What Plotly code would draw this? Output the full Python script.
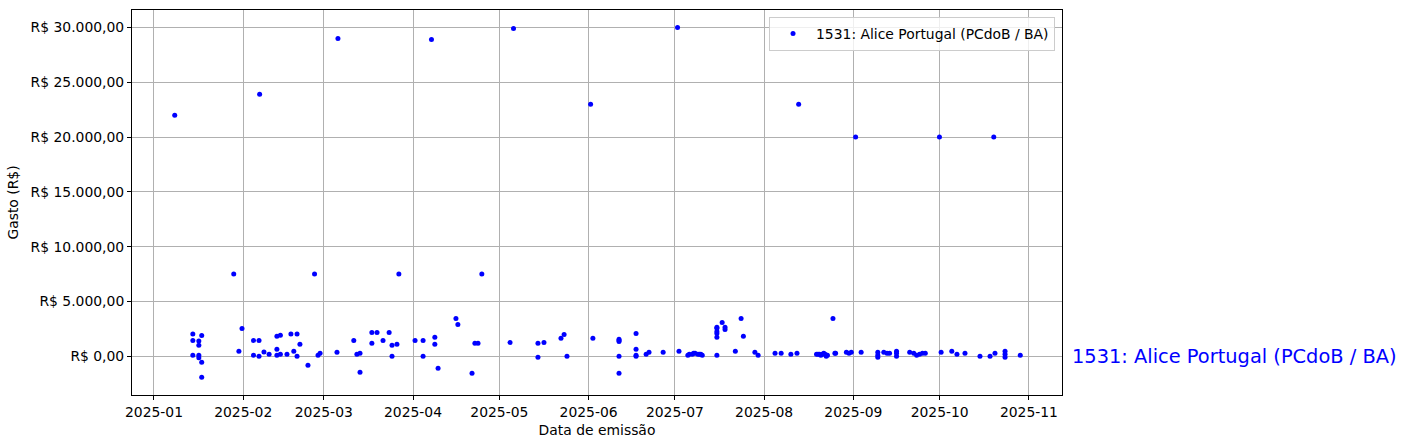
import plotly.graph_objects as go

# ---- data ----
dates = [
    "2025-01-08 05:00",
    "2025-01-14 12:00", "2025-01-14 12:00", "2025-01-14 12:00",
    "2025-01-16 14:00", "2025-01-16 14:00", "2025-01-16 14:00", "2025-01-16 14:00",
    "2025-01-17 14:00", "2025-01-17 14:00", "2025-01-17 14:00",
    "2025-01-28 17:00", "2025-01-30 12:00", "2025-01-31 14:00",
    "2025-02-04 14:00", "2025-02-04 14:00",
    "2025-02-06 12:00", "2025-02-06 12:00", "2025-02-06 17:00",
    "2025-02-08 05:00", "2025-02-10 00:00",
    "2025-02-12 17:00", "2025-02-12 17:00", "2025-02-12 17:00",
    "2025-02-13 22:00", "2025-02-13 22:00",
    "2025-02-16 05:00", "2025-02-17 14:00", "2025-02-18 14:00",
    "2025-02-19 17:00", "2025-02-19 17:00",
    "2025-02-20 17:00", "2025-02-23 12:00", "2025-02-25 19:00",
    "2025-02-27 00:00", "2025-02-27 17:00",
    "2025-03-05 14:00", "2025-03-05 22:00", "2025-03-11 10:00", "2025-03-12 12:00",
    "2025-03-13 14:00", "2025-03-13 14:00",
    "2025-03-17 17:00", "2025-03-17 17:00",
    "2025-03-19 12:00", "2025-03-21 14:00", "2025-03-23 17:00",
    "2025-03-24 17:00", "2025-03-24 17:00",
    "2025-03-26 10:00", "2025-03-27 02:00",
    "2025-04-01 17:00", "2025-04-04 12:00", "2025-04-04 12:00",
    "2025-04-07 10:00", "2025-04-08 14:00", "2025-04-08 14:00",
    "2025-04-09 17:00", "2025-04-15 22:00", "2025-04-16 14:00",
    "2025-04-21 12:00", "2025-04-22 12:00", "2025-04-23 14:00", "2025-04-24 22:00",
    "2025-05-04 17:00", "2025-05-05 22:00",
    "2025-05-14 10:00", "2025-05-14 10:00",
    "2025-05-16 12:00", "2025-05-22 10:00", "2025-05-23 12:00", "2025-05-24 12:00",
    "2025-06-01 17:00", "2025-06-02 12:00",
    "2025-06-11 14:00", "2025-06-11 14:00", "2025-06-11 14:00", "2025-06-11 14:00", "2025-06-11 14:00",
    "2025-06-17 12:00", "2025-06-17 12:00", "2025-06-17 12:00", "2025-06-17 12:00",
    "2025-06-21 00:00", "2025-06-22 00:00", "2025-06-26 22:00",
    "2025-07-01 22:00", "2025-07-02 10:00",
    "2025-07-05 12:00", "2025-07-06 00:00", "2025-07-07 00:00", "2025-07-07 12:00",
    "2025-07-08 00:00", "2025-07-09 00:00", "2025-07-09 12:00", "2025-07-10 00:00",
    "2025-07-10 12:00",
    "2025-07-15 14:00", "2025-07-15 14:00", "2025-07-15 14:00", "2025-07-15 14:00",
    "2025-07-15 14:00", "2025-07-15 14:00",
    "2025-07-17 10:00", "2025-07-18 10:00", "2025-07-18 10:00",
    "2025-07-22 00:00", "2025-07-24 00:00", "2025-07-24 19:00",
    "2025-07-28 19:00", "2025-07-29 22:00",
    "2025-08-04 19:00", "2025-08-06 22:00", "2025-08-10 07:00", "2025-08-12 10:00",
    "2025-08-13 00:00",
    "2025-08-19 05:00", "2025-08-19 17:00", "2025-08-20 05:00", "2025-08-20 17:00",
    "2025-08-21 05:00", "2025-08-21 17:00", "2025-08-22 05:00", "2025-08-22 14:00",
    "2025-08-23 00:00",
    "2025-08-24 22:00", "2025-08-25 14:00", "2025-08-25 20:00",
    "2025-08-29 14:00", "2025-08-30 12:00", "2025-08-31 07:00",
    "2025-09-01 19:00", "2025-09-03 17:00",
    "2025-09-09 12:00", "2025-09-09 12:00", "2025-09-09 12:00",
    "2025-09-11 14:00", "2025-09-12 17:00", "2025-09-13 14:00",
    "2025-09-16 00:00", "2025-09-16 00:00", "2025-09-16 00:00",
    "2025-09-20 14:00", "2025-09-22 00:00", "2025-09-23 00:00", "2025-09-24 00:00",
    "2025-09-25 00:00", "2025-09-26 00:00",
    "2025-09-30 22:00", "2025-10-01 12:00", "2025-10-05 05:00", "2025-10-07 00:00",
    "2025-10-09 19:00", "2025-10-15 00:00", "2025-10-18 12:00", "2025-10-19 19:00",
    "2025-10-20 05:00",
    "2025-10-23 17:00", "2025-10-23 17:00", "2025-10-23 17:00",
    "2025-10-29 00:00",
]
values = [
    22000,
    2030, 1450, 90,
    1390, 1000, 90, -130,
    1900, -550, -1900,
    7500, 455, 2545,
    1450, 90,
    1450, 0, 23900,
    390, 180,
    1820, 640, 90,
    1910, 180,
    180, 2030, 455,
    2030, 0,
    1090, -820, 7500,
    90, 270,
    364, 29000, 1450, 180,
    -1450, 270,
    2180, 1180,
    2180, 1450, 2180,
    1000, 0,
    1090, 7500,
    1450, 1450, 0,
    28900, 1730, 1090,
    -1090, 3450, 2910,
    -1550, 1180, 1180, 7500,
    1270, 29900,
    1180, -90,
    1270, 1640, 2000, 0,
    23000, 1640,
    1550, 1450, 1360, 0, -1550,
    2090, 640, 90, 0,
    180, 364, 364,
    30000, 455,
    90, 180, 180, 270,
    270, 180, 180, 180,
    90,
    1730, 2090, 2270, 2550,
    2640, 90,
    3090, 2640, 2450,
    455, 3450, 1820,
    364, 90,
    270, 270, 180, 270,
    23000,
    180, 180, 180, 90,
    180, 270, 180, 0,
    90,
    3450, 270, 270,
    364, 270, 364,
    20000, 364,
    364, 90, -90,
    364, 270, 270,
    270, 455, 0,
    364, 270, 90, 180,
    270, 270,
    20000, 364, 455, 180,
    270, 0, 0, 20000,
    270,
    180, 455, -90,
    90,
]
series_name = "1531: Alice Portugal (PCdoB / BA)"
y_ticks = [0, 5000, 10000, 15000, 20000, 25000, 30000]
x_ticks = ["2025-01-01", "2025-02-01", "2025-03-01", "2025-04-01", "2025-05-01", "2025-06-01",
           "2025-07-01", "2025-08-01", "2025-09-01", "2025-10-01", "2025-11-01"]


def brl(v):
    s = f"{v:,.2f}"
    s = s.replace(",", "X").replace(".", ",").replace("X", ".")
    return "R$ " + s


FONT = "DejaVu Sans"
BASE = 13.9

fig = go.Figure()
fig.add_trace(go.Scatter(
    x=dates, y=values, mode="markers", name=series_name,
    marker=dict(color="#0000ff", size=5, line=dict(width=0)),
))

axis_common = dict(
    showline=True, linecolor="black", linewidth=1, mirror=True,
    showgrid=True, gridcolor="#b0b0b0", gridwidth=1,
    ticks="outside", ticklen=4, tickwidth=1, tickcolor="black",
    tickfont=dict(family=FONT, size=BASE, color="black"),
    zeroline=False,
)

fig.update_layout(
    width=1407, height=448,
    margin=dict(l=132, r=345, t=10, b=53),
    paper_bgcolor="white", plot_bgcolor="white",
    font=dict(family=FONT, size=BASE, color="black"),
    showlegend=True,
    legend=dict(
        x=0.9925, y=0.982, xanchor="right", yanchor="top",
        bgcolor="rgba(255,255,255,0.8)", bordercolor="#cccccc", borderwidth=1,
        itemwidth=36,
        font=dict(family=FONT, size=BASE, color="black"),
    ),
    xaxis=dict(
        **axis_common,
        type="date",
        range=["2024-12-24 08:40", "2025-11-12 12:00"],
        tickvals=x_ticks,
        ticktext=[t[:7] for t in x_ticks],
        title=dict(text="Data de emissão", font=dict(family=FONT, size=BASE), standoff=6),
    ),
    yaxis=dict(
        **axis_common,
        range=[-3530, 31590],
        tickvals=y_ticks,
        ticktext=[brl(v) for v in y_ticks],
        title=dict(text="Gasto (R$)", font=dict(family=FONT, size=BASE), standoff=8),
    ),
    annotations=[dict(
        text=series_name, xref="paper", yref="y", x=1, y=0,
        xanchor="left", yanchor="middle", xshift=8, showarrow=False,
        font=dict(family=FONT, size=19.4, color="#0000ff"),
    )],
)

fig.write_html(
    "out.html",
    config={"displayModeBar": False},
    post_script="document.body.style.margin='0';",
)
